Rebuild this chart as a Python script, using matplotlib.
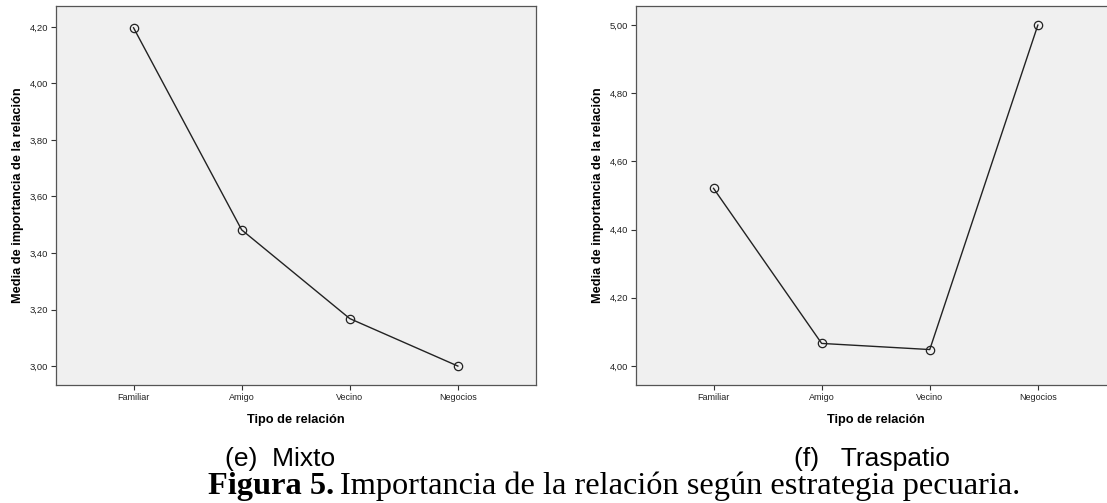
import numpy as np
import matplotlib
matplotlib.use("Agg")
import matplotlib.pyplot as plt

# data
relaciones = ["Familiar", "Amigo", "Vecino", "Negocios"]
mixto = [4.197, 3.482, 3.168, 3.00]
traspatio = [4.521, 4.066, 4.048, 5.00]

mixto_ticks = [3.0, 3.2, 3.4, 3.6, 3.8, 4.0, 4.2]
mixto_ticklabels = ["3,00", "3,20", "3,40", "3,60", "3,80", "4,00", "4,20"]
trasp_ticks = [4.0, 4.2, 4.4, 4.6, 4.8, 5.0]
trasp_ticklabels = ["4,00", "4,20", "4,40", "4,60", "4,80", "5,00"]

W, H = 1107, 503
fig = plt.figure(figsize=(W / 100, H / 100), dpi=100)
fig.patch.set_facecolor("white")

sans = "Liberation Sans"
serif = "Liberation Serif"


def panel(rect, values, ticks, ticklabels, ylim):
    ax = fig.add_axes(rect)
    x = np.arange(len(relaciones))
    ax.set_facecolor("#f0f0f0")
    ax.plot(x, values, color="#222222", linewidth=1.0, marker="o",
            markersize=6, markerfacecolor="none", markeredgecolor="#222222",
            markeredgewidth=0.9)
    ax.set_xlim(-0.72, 3.72)
    ax.set_ylim(*ylim)
    ax.set_xticks(x)
    ax.set_xticklabels(relaciones, fontsize=6.5, family=sans, color="#222222")
    ax.set_yticks(ticks)
    ax.set_yticklabels(ticklabels, fontsize=6.8, family=sans, color="#222222")
    ax.tick_params(length=3.6, width=0.8, color="#333333", pad=2)
    for s in ax.spines.values():
        s.set_color("#555555")
        s.set_linewidth(0.9)
    ax.set_xlabel("Tipo de relación", fontsize=9.2, family=sans,
                  weight="bold", labelpad=9)
    ax.set_ylabel("Media de importancia de la relación", fontsize=9.2,
                  family=sans, weight="bold", labelpad=4)
    return ax


ax1 = panel([55.7 / W, 1 - 385 / H, 480 / W, 379 / H], mixto,
            mixto_ticks, mixto_ticklabels, (2.933, 4.274))
ax2 = panel([635.7 / W, 1 - 385 / H, 480 / W, 379 / H], traspatio,
            trasp_ticks, trasp_ticklabels, (3.944, 5.056))

# sub captions
fig.text(225 / W, 1 - 466 / H, "(e)  Mixto", family=sans, fontsize=19,
         ha="left", va="baseline")
fig.text(794 / W, 1 - 466 / H, "(f)   Traspatio", family=sans, fontsize=19,
         ha="left", va="baseline")

# figure caption, bold part then regular part
cap_y = 1 - 494 / H
t1 = fig.text(208 / W, cap_y, "Figura 5.", family=serif, weight="bold",
              fontsize=23.3, ha="left", va="baseline")
fig.canvas.draw()
bb = t1.get_window_extent()
fig.text((bb.x1 + 6) / W, cap_y,
         "Importancia de la relación según estrategia pecuaria.",
         family=serif, fontsize=23.3, ha="left", va="baseline")

fig.savefig("out.png", dpi=100)
